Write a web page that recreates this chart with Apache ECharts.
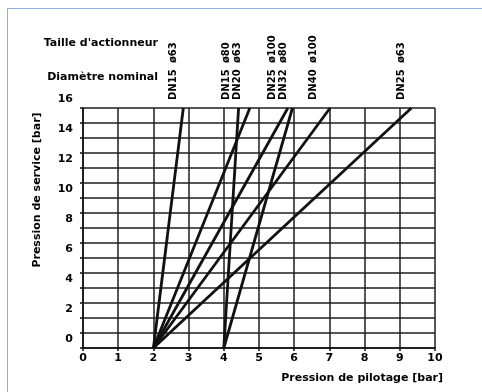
<!DOCTYPE html>
<html>
<head>
<meta charset="utf-8">
<script src="https://cdn.jsdelivr.net/npm/echarts@6/dist/echarts.min.js"></script>
<style>
  html, body { margin: 0; padding: 0; background: #fff; }
  #chart { width: 482px; height: 392px; }
</style>
</head>
<body>
<div id="chart"></div>
<script>
// Pilot pressure needed vs. service pressure — each curve is a straight line
// from its start point on the x axis up to the top of the chart (16 bar).
const LINE_STARTS = [[2, 0], [2, 0], [2, 0], [2, 0], [2, 0], [4, 0], [4, 0]];
const LINE_ENDS = [[2.85, 16], [4.74, 16], [5.82, 16], [7.02, 16], [9.33, 16], [4.42, 16], [5.95, 16]];

// Rotated header labels above the chart, one group per column.
const HEADER_X = [2.57, 4.22, 5.55, 6.55, 9.05];
const TAILLE_LABELS = [["ø63"], ["ø80", "ø63"], ["ø100", "ø80"], ["ø100"], ["ø63"]];
const DN_LABELS = [["DN15"], ["DN15", "DN20"], ["DN25", "DN32"], ["DN40"], ["DN25"]];

const ROW_TITLES = ["Taille d'actionneur", "Diamètre nominal"];
const X_NAME = "Pression de pilotage [bar]";
const Y_NAME = "Pression de service [bar]";

const INK = "#111111";
const GRID = "#1e1e1e";
const FRAME = "#8fb0dc";
const FONT = "'DejaVu Sans', Arial, sans-serif";

const chart = echarts.init(document.getElementById("chart"));

chart.setOption({
  animation: false,
  backgroundColor: "#ffffff",
  textStyle: { fontFamily: FONT },
  grid: { left: 83, right: 47, top: 108, bottom: 44 },
  xAxis: {
    type: "value",
    min: 0,
    max: 10,
    interval: 1,
    name: X_NAME,
    nameLocation: "end",
    nameGap: 8,
    nameTextStyle: {
      color: "#000", fontWeight: "bold", fontSize: 11,
      align: "right", verticalAlign: "top", padding: [25, 0, 0, 0],
    },
    axisLine: { lineStyle: { color: INK, width: 1.5 } },
    axisTick: { length: 3, lineStyle: { color: INK, width: 1.5 } },
    axisLabel: { color: "#000", fontWeight: "bold", fontSize: 11, margin: 5 },
    splitLine: { show: true, lineStyle: { color: GRID, width: 1.5 } },
  },
  yAxis: {
    type: "value",
    min: 0,
    max: 16,
    interval: 1,
    name: Y_NAME,
    nameLocation: "middle",
    nameRotate: 90,
    nameGap: 40,
    nameTextStyle: {
      color: "#000", fontWeight: "bold", fontSize: 11,
      padding: [0, 0, 0, 76],
    },
    axisLine: { lineStyle: { color: INK, width: 1.5 } },
    axisTick: { length: 3, lineStyle: { color: INK, width: 1.5 } },
    axisLabel: {
      color: "#000", fontWeight: "bold", fontSize: 11, margin: 10,
      verticalAlign: "bottom", padding: [0, 0, 3, 0],
      formatter: (v) => (v % 2 === 0 ? String(v) : ""),
    },
    splitLine: { show: true, lineStyle: { color: GRID, width: 1.5 } },
  },
  series: LINE_STARTS.map((start, i) => ({
    type: "line",
    showSymbol: false,
    silent: true,
    lineStyle: { color: INK, width: 2.8 },
    data: [start, LINE_ENDS[i]],
  })),
});

// header labels: placed through the x scale, bottoms aligned on each row
const rotated = (x, y, text) => ({
  type: "text",
  x: x,
  y: y,
  rotation: Math.PI / 2,
  style: {
    text: text,
    fill: "#000",
    font: "bold 10px " + FONT,
    align: "left",
    verticalAlign: "middle",
    lineHeight: 11,
  },
});

const graphics = [
  {
    type: "rect",
    shape: { x: 7.5, y: 8.5, width: 600, height: 600 },
    style: { fill: "none", stroke: FRAME, lineWidth: 1 },
    silent: true,
  },
  {
    type: "text", x: 158, y: 43,
    style: { text: ROW_TITLES[0], fill: "#000", font: "bold 11px " + FONT, align: "right", verticalAlign: "middle" },
  },
  {
    type: "text", x: 158, y: 77,
    style: { text: ROW_TITLES[1], fill: "#000", font: "bold 11px " + FONT, align: "right", verticalAlign: "middle" },
  },
];

HEADER_X.forEach((xv, i) => {
  const px = chart.convertToPixel({ gridIndex: 0 }, [xv, 16])[0];
  graphics.push(rotated(px, 63, TAILLE_LABELS[i].join("\n")));
  graphics.push(rotated(px, 100, DN_LABELS[i].join("\n")));
});

chart.setOption({ graphic: graphics });
</script>
</body>
</html>
